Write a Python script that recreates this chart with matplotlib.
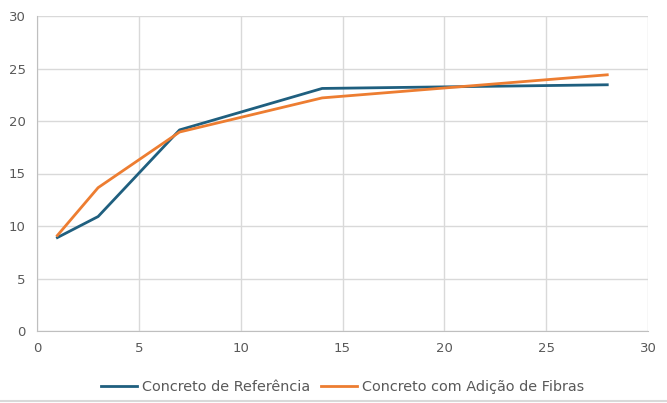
import matplotlib
matplotlib.use("Agg")
import matplotlib.pyplot as plt

# idade (dias) x resistencia
dias = [1, 3, 7, 14, 28]
referencia = [8.9, 10.9, 19.15, 23.1, 23.45]
fibras = [9.1, 13.65, 18.95, 22.2, 24.4]

xticks = [0, 5, 10, 15, 20, 25, 30]
yticks = [0, 5, 10, 15, 20, 25, 30]

plt.rcParams['font.family'] = ['DejaVu Sans']

fig = plt.figure(figsize=(6.67, 4.03), dpi=100)
ax = fig.add_axes([37/667, 1-331/403, (648-37)/667, (331-16)/403])

ax.plot(dias, referencia, color='#1f5f7f', lw=2.0, label='Concreto de Referência')
ax.plot(dias, fibras, color='#ed7d31', lw=2.0, label='Concreto com Adição de Fibras')

ax.set_xlim(0, 30)
ax.set_ylim(0, 30)
ax.set_xticks(xticks)
ax.set_yticks(yticks)
ax.grid(True, color='#d9d9d9', lw=1)
ax.set_axisbelow(True)
for s in ['top', 'right']:
    ax.spines[s].set_visible(False)
for s in ['left', 'bottom']:
    ax.spines[s].set_color('#bfbfbf')
ax.tick_params(length=0, labelsize=9.5, colors='#595959', pad=8)

leg = ax.legend(loc='center', bbox_to_anchor=(0.5, (331-387)/315),
                ncol=2, frameon=False, fontsize=10.4, handlelength=2.5,
                columnspacing=0.8, handletextpad=0.3)
for t in leg.get_texts():
    t.set_color('#595959')

fig.add_artist(plt.Line2D([0, 1], [0.004, 0.004], color='#d9d9d9', lw=1.5))

fig.savefig('out.png', dpi=100)
